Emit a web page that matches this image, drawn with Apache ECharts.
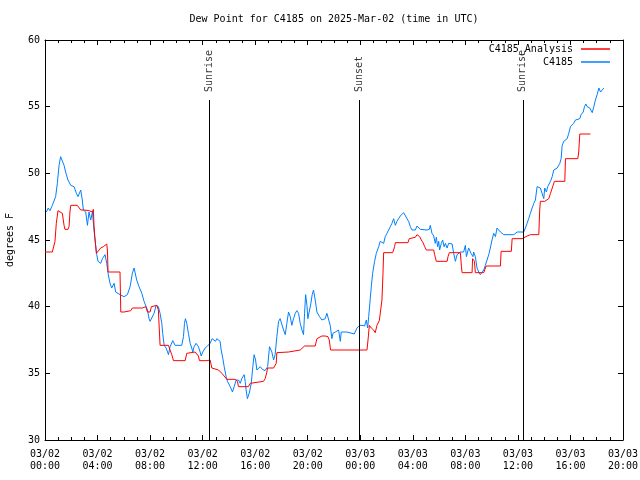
<!DOCTYPE html>
<html>
<head>
<meta charset="utf-8">
<script src="https://cdn.jsdelivr.net/npm/echarts@6/dist/echarts.min.js"></script>
<style>
html,body{margin:0;padding:0;background:#fff;}
#chart{width:640px;height:480px;}
</style>
</head>
<body>
<div id="chart"></div>
<script>
// ---- Data (hours since 2025-03-02 00:00 UTC) ----
const xTickDates = ['03/02','03/02','03/02','03/02','03/02','03/02','03/03','03/03','03/03','03/03','03/03','03/03'];
const xTickTimes = ['00:00','04:00','08:00','12:00','16:00','20:00','00:00','04:00','08:00','12:00','16:00','20:00'];

const eventNames = ['Sunrise','Sunset','Sunrise'];
const eventHours = [12.50, 23.95, 36.38];

const obsHours = [0.10,0.15,0.25,0.38,0.56,0.81,0.94,1.07,1.19,1.32,1.45,1.57,1.75,1.96,2.21,2.39,2.51,2.72,2.84,2.92,3.10,3.23,3.35,3.48,3.61,3.73,3.81,3.94,4.04,4.24,4.37,4.57,4.70,4.80,4.95,5.08,5.26,5.38,5.51,5.71,6.02,6.27,6.48,6.65,6.78,6.98,7.16,7.37,7.54,7.80,7.92,8.00,8.15,8.30,8.46,8.63,8.76,8.89,8.96,9.07,9.22,9.40,9.52,9.73,9.90,10.41,10.54,10.62,10.69,10.79,10.92,11.05,11.17,11.25,11.35,11.50,11.68,11.81,11.89,12.01,12.19,12.37,12.44,12.57,12.72,12.83,12.98,13.08,13.21,13.33,13.41,13.54,13.64,13.79,13.89,14.10,14.27,14.40,14.55,14.73,14.86,14.98,15.16,15.24,15.31,15.41,15.57,15.70,15.82,15.92,16.03,16.13,16.38,16.55,16.75,16.95,17.09,17.27,17.40,17.52,17.65,17.78,17.90,18.16,18.29,18.41,18.54,18.67,18.79,18.92,19.05,19.17,19.30,19.43,19.56,19.68,19.76,19.84,19.94,20.01,20.11,20.24,20.34,20.44,20.57,20.70,20.90,21.08,21.21,21.33,21.46,21.59,21.71,21.84,21.92,22.10,22.35,22.48,22.55,22.98,23.37,23.54,23.75,23.95,24.13,24.33,24.46,24.56,24.64,24.76,24.84,24.94,25.09,25.22,25.40,25.52,25.65,25.78,25.90,26.03,26.16,26.29,26.41,26.54,26.67,26.79,26.92,27.05,27.30,27.43,27.56,27.68,27.81,27.94,28.19,28.32,28.44,28.57,29.08,29.26,29.33,29.46,29.59,29.71,29.79,29.89,29.97,30.04,30.17,30.27,30.38,30.48,30.61,30.73,30.99,31.11,31.24,31.37,31.49,31.62,31.75,31.87,32.00,32.08,32.25,32.33,32.43,32.58,32.63,32.76,32.89,33.02,33.14,33.27,33.40,33.52,33.65,33.78,33.90,34.03,34.16,34.29,34.41,34.54,34.67,34.92,35.69,35.94,36.44,36.57,36.70,36.82,36.95,37.08,37.21,37.33,37.46,37.59,37.71,37.84,37.97,38.04,38.17,38.27,38.35,38.48,38.61,38.73,38.86,38.99,39.11,39.19,39.29,39.37,39.49,39.62,39.75,39.87,40.00,40.13,40.25,40.38,40.51,40.71,40.81,40.97,41.07,41.17,41.27,41.40,41.47,41.58,41.66,41.78,41.90,42.03,42.16,42.29,42.41,42.54];
const obsValues = [47.1,47.0,47.4,47.2,47.6,48.25,49.25,50.6,51.25,51.3,50.6,50.1,49.5,49.1,49.0,48.5,48.25,48.75,48.0,47.25,47.1,46.1,47.1,46.5,47.1,45.75,45.0,43.9,43.4,43.25,43.6,43.9,43.25,42.5,41.75,41.4,41.75,41.1,41.0,40.9,40.75,40.9,41.5,42.5,42.9,42.0,41.5,41.0,40.4,39.75,39.1,38.9,38.9,39.5,40.1,40.0,39.5,38.75,38.0,37.1,36.9,36.4,37.0,37.45,37.1,37.1,37.75,38.75,39.1,38.75,38.0,37.25,36.9,36.6,37.0,37.25,37.0,36.6,36.3,36.6,36.9,37.05,37.0,37.25,37.6,37.7,37.4,37.6,37.75,37.4,36.75,36.1,35.5,34.75,34.4,34.0,33.6,34.0,34.5,34.5,34.25,34.6,34.9,34.4,33.75,33.1,33.6,34.25,35.5,36.4,36.0,35.25,35.5,35.3,35.2,35.5,37.0,36.6,36.0,36.4,37.75,38.9,39.1,38.25,37.9,38.75,39.6,39.25,38.6,39.1,39.5,39.7,39.5,38.75,38.25,37.9,39.5,40.9,40.1,39.1,39.6,40.25,40.9,41.25,40.5,39.6,39.25,39.0,38.9,39.1,39.5,39.4,38.6,37.6,38.0,38.1,38.25,37.4,38.1,38.1,38.0,37.95,38.4,38.6,38.6,38.55,39.0,38.4,39.25,40.6,41.5,42.5,43.4,44.0,44.5,44.9,45.05,44.75,45.25,45.5,45.75,46.0,46.25,46.6,46.1,46.4,46.6,46.8,47.05,46.9,46.6,46.4,46.0,45.75,45.75,46.05,46.0,45.8,45.75,45.8,46.1,45.5,45.3,44.75,45.2,44.5,44.9,44.25,44.75,45.0,44.5,44.75,44.4,44.75,44.7,44.0,43.4,43.9,43.75,44.1,44.25,44.1,44.6,43.75,44.4,44.25,44.0,43.75,44.1,43.75,42.9,42.6,42.4,42.5,42.75,43.1,43.5,43.9,44.4,45.0,45.5,45.25,45.9,45.75,45.6,45.4,45.4,45.6,45.6,45.9,46.25,46.6,47.0,47.4,47.75,48.0,49.0,49.0,48.9,48.75,48.1,48.9,48.6,49.0,48.9,49.4,49.75,50.25,50.25,50.4,50.4,50.75,51.1,52.1,52.4,52.5,52.6,53.0,53.5,53.6,53.75,54.0,54.1,54.1,54.4,54.6,55.0,55.2,55.0,55.1,54.9,54.95,54.55,55.0,55.5,55.9,56.4,56.1,56.0,56.4];

const anaHours = [0.00,0.56,0.69,0.76,0.86,0.99,1.14,1.32,1.40,1.45,1.52,1.75,1.83,1.90,1.96,2.46,2.59,2.72,2.84,2.97,3.10,3.35,3.61,3.68,3.73,3.79,3.86,3.91,3.98,4.24,4.44,4.50,4.70,4.75,4.80,5.71,5.77,6.02,6.53,6.65,7.41,7.67,7.80,8.00,8.10,8.25,8.51,8.63,8.76,9.40,9.52,9.65,9.78,10.67,10.79,10.92,11.43,11.56,11.68,11.76,12.32,12.44,12.57,12.70,12.83,13.21,13.33,13.46,13.64,13.84,14.48,14.55,14.65,14.73,15.49,15.62,15.75,16.63,16.76,16.89,16.94,17.40,17.52,17.60,17.65,18.54,18.67,19.43,19.56,19.76,20.57,20.70,20.83,21.08,21.33,21.54,21.64,21.74,24.51,24.59,24.69,24.84,25.01,25.14,25.27,25.45,25.60,25.65,25.73,25.78,26.46,26.54,26.61,26.67,27.63,27.73,27.81,28.19,28.32,28.40,28.52,28.65,28.78,28.90,29.03,29.59,29.66,29.79,30.61,30.68,30.78,31.62,31.70,31.75,32.51,32.55,32.63,32.69,32.76,33.40,33.47,33.58,34.67,34.72,35.50,35.56,36.32,36.44,36.70,36.95,37.59,37.66,37.71,38.04,38.17,38.35,38.48,38.68,38.78,39.57,39.62,40.56,40.63,40.71,41.52];
const anaValues = [44.1,44.1,44.25,44.9,46.25,47.2,47.1,47.0,46.9,46.1,45.8,45.8,46.0,47.1,47.6,47.6,47.5,47.25,47.1,47.25,47.1,47.2,47.1,47.3,46.1,45.25,44.5,44.0,44.1,44.4,44.5,44.5,44.7,44.25,42.6,42.6,39.6,39.6,39.7,39.9,39.9,40.0,39.6,39.6,40.0,40.15,40.1,39.75,37.1,37.1,36.75,36.4,35.95,35.95,36.5,36.6,36.6,36.5,36.3,35.95,35.95,36.1,36.0,35.4,35.25,35.25,35.1,35.0,34.8,34.55,34.55,34.6,34.4,34.0,34.0,34.25,34.4,34.4,34.6,35.1,35.4,35.4,35.25,35.75,36.55,36.6,36.75,36.75,36.9,37.05,37.05,37.6,37.75,37.8,37.8,37.75,37.5,36.75,36.75,37.5,38.6,38.4,38.25,38.05,38.6,38.95,39.1,40.5,42.5,44.05,44.05,44.25,44.5,44.8,44.8,45.1,45.2,45.2,45.4,45.45,45.25,45.0,44.8,44.5,44.25,44.25,43.9,43.4,43.4,43.75,44.05,44.05,43.0,42.55,42.55,43.6,43.6,43.4,42.55,42.55,42.75,43.05,43.05,44.15,44.15,45.1,45.1,45.15,45.3,45.4,45.4,47.25,47.9,47.9,47.85,48.1,48.5,49.1,49.4,49.4,51.1,51.1,51.6,52.95,52.95];

const eventLineTop = 55.5;

// ---- Chart ----
const FONT = 'DejaVu Sans Mono';
const chart = echarts.init(document.getElementById('chart'), null, {renderer: 'canvas'});

const baseX = {
  type: 'value', min: 0, max: 44, interval: 4,
  axisLine: {show: true, onZero: false, lineStyle: {color: '#000', width: 1}},
  axisTick: {show: true, inside: true, length: 5, lineStyle: {color: '#000', width: 1}},
  minorTick: {show: true, splitNumber: 4, length: 3, lineStyle: {color: '#000', width: 1}},
  splitLine: {show: false}
};
const baseY = {
  type: 'value', min: 30, max: 60, interval: 5,
  axisLine: {show: true, onZero: false, lineStyle: {color: '#000', width: 1}},
  axisTick: {show: true, inside: true, length: 5, lineStyle: {color: '#000', width: 1}},
  splitLine: {show: false}
};

const option = {
  animation: false,
  backgroundColor: '#fff',
  title: {
    text: 'Dew Point for C4185 on 2025-Mar-02 (time in UTC)',
    left: 334, top: 14, textAlign: 'center', padding: 0,
    textStyle: {fontFamily: FONT, fontSize: 10, fontWeight: 'normal', color: '#000'}
  },
  legend: [
    {
      data: ['C4185_Analysis'], orient: 'vertical', right: 30, top: 44, padding: 0,
      align: 'right', icon: 'rect', itemWidth: 29, itemHeight: 1.5, selectedMode: false,
      textStyle: {fontFamily: FONT, fontSize: 10, color: '#000', padding: [0, 3, 0, 0]}
    },
    {
      data: ['C4185'], orient: 'vertical', right: 30, top: 57, padding: 0,
      align: 'right', icon: 'rect', itemWidth: 29, itemHeight: 1.5, selectedMode: false,
      textStyle: {fontFamily: FONT, fontSize: 10, color: '#000', padding: [0, 3, 0, 0]}
    }
  ],
  grid: {left: 45, right: 17, top: 40, bottom: 40, containLabel: false, outerBoundsMode: 'none'},
  xAxis: [
    Object.assign({}, baseX, {
      position: 'bottom',
      axisLabel: {
        margin: 8, color: '#000', fontFamily: FONT, fontSize: 10, lineHeight: 12,
        formatter: function (v) { const i = Math.round(v / 4); return xTickDates[i] + '\n' + xTickTimes[i]; }
      }
    }),
    Object.assign({}, baseX, {position: 'top', axisLabel: {show: false}})
  ],
  yAxis: [
    Object.assign({}, baseY, {
      position: 'left',
      name: 'degrees F', nameLocation: 'middle', nameGap: 30,
      nameTextStyle: {fontFamily: FONT, fontSize: 10, color: '#000'},
      axisLabel: {margin: 5, color: '#000', fontFamily: FONT, fontSize: 10}
    }),
    Object.assign({}, baseY, {position: 'right', axisLabel: {show: false}})
  ],
  series: [
    {
      name: 'C4185_Analysis', type: 'line', xAxisIndex: 0, yAxisIndex: 0,
      showSymbol: false, symbol: 'none',
      lineStyle: {color: '#ff0000', width: 1}, itemStyle: {color: '#ff0000'},
      data: anaHours.map((h, i) => [h, anaValues[i]]),
      markLine: {
        silent: true, symbol: ['none', 'none'],
        lineStyle: {color: '#000', width: 1, type: 'solid'},
        label: {show: false},
        data: eventHours.map(h => [{coord: [h, 30]}, {coord: [h, eventLineTop]}])
      },
      z: 3
    },
    {
      name: 'C4185', type: 'line', xAxisIndex: 0, yAxisIndex: 0,
      showSymbol: false, symbol: 'none',
      lineStyle: {color: '#0080ff', width: 1}, itemStyle: {color: '#0080ff'},
      data: obsHours.map((h, i) => [h, obsValues[i]]),
      z: 2
    },
    {
      name: 'events', type: 'scatter', xAxisIndex: 0, yAxisIndex: 0,
      symbolSize: 0, silent: true,
      data: eventHours.map((h, i) => ({value: [h, eventLineTop], name: eventNames[i]})),
      label: {
        show: true, position: 'inside', rotate: 90, align: 'left', verticalAlign: 'middle',
        padding: [0, 0, 0, 8],
        formatter: p => p.name,
        fontFamily: FONT, fontSize: 10, color: '#000'
      },
      z: 4
    }
  ]
};
chart.setOption(option);
</script>
</body>
</html>
